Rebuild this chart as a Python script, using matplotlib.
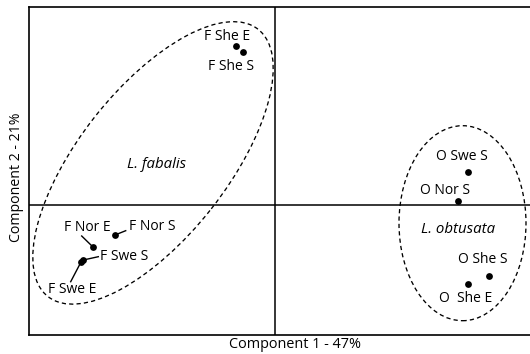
import matplotlib
matplotlib.use("Agg")
import matplotlib.pyplot as plt
from matplotlib.patches import Ellipse

plt.rcParams['font.family'] = ['Open Sans', 'DejaVu Sans']

# PCA scores of the populations
samples = ["F She E", "F She S", "F Nor E", "F Nor S", "F Swe S", "F Swe E",
           "O Swe S", "O Nor S", "O She S", "O She E"]
pc1 = [-0.387, -0.320, -1.814, -1.597, -1.914, -1.937, 1.936, 1.836, 2.146, 1.930]
pc2 = [1.593, 1.536, -0.420, -0.297, -0.547, -0.567, 0.330, 0.043, -0.707, -0.790]

x_label = "Component 1 - 47%"
y_label = "Component 2 - 21%"

# label text for each point and where it sits (baseline, centred)
label_text = {"F She E": "F She E", "F She S": "F She S", "F Nor E": "F Nor E",
              "F Nor S": "F Nor S", "F Swe S": "F Swe S", "F Swe E": "F Swe E",
              "O Swe S": "O Swe S", "O Nor S": "O Nor S", "O She S": "O She S",
              "O She E": "O  She E"}
label_xy = {"F She E": (-0.475, 1.658), "F She S": (-0.440, 1.358),
            "F Nor E": (-1.871, -0.259), "F Nor S": (-1.229, -0.242),
            "F Swe S": (-1.509, -0.542), "F Swe E": (-2.025, -0.875),
            "O Swe S": (1.868, 0.451), "O Nor S": (1.702, 0.115),
            "O She S": (2.083, -0.575), "O She E": (1.907, -0.969)}
# leader line end points for crowded labels
leader_end = {"F Nor E": (-1.930, -0.307), "F Nor S": (-1.490, -0.254),
              "F Swe S": (-1.764, -0.514), "F Swe E": (-2.040, -0.764)}

# species groups: name, centre, width, height, angle, label position
groups = [("L. fabalis", (-1.217, 0.424), 3.40, 1.484, 51.8, (-1.179, 0.370)),
          ("L. obtusata", (1.878, -0.179), 1.27, 1.95, 0.0, (1.834, -0.280))]

fig = plt.figure(figsize=(5.30, 3.54), dpi=100)
ax = fig.add_axes([29.3 / 530, 1 - 334.5 / 354, 1 - 29.3 / 530, (334.5 - 7.3) / 354])
ax.set_xlim(-2.454, 2.553)
ax.set_ylim(-1.292, 1.980)
ax.set_xticks([])
ax.set_yticks([])
for side in ["left", "top", "bottom"]:
    ax.spines[side].set_linewidth(1.2)
ax.spines["right"].set_visible(False)

ax.axhline(0, color="black", lw=1.1, zorder=1)
ax.axvline(0, color="black", lw=1.1, zorder=1)

for name, centre, w, h, ang, txy in groups:
    ax.add_patch(Ellipse(centre, w, h, angle=ang, fill=False, ec="black",
                         lw=0.95, ls=(0, (3.2, 2.4)), zorder=2))
    ax.text(txy[0], txy[1], name, style="italic", fontsize=10.8,
            ha="center", va="baseline")

for s, x, y in zip(samples, pc1, pc2):
    if s in leader_end:
        ex, ey = leader_end[s]
        ax.plot([x, ex], [y, ey], color="black", lw=1.0, zorder=3)

ax.scatter(pc1, pc2, s=24, color="black", zorder=4, linewidths=0)

for s in samples:
    lx, ly = label_xy[s]
    ax.text(lx, ly, label_text[s], fontsize=10, ha="center", va="baseline")

fig.text(295.3 / 530, 1 - 345 / 354, x_label, fontsize=10.4, ha="center", va="center")
fig.text(17 / 530, 1 - 177.5 / 354, y_label, fontsize=10.2, ha="center", va="center",
         rotation=90)

fig.savefig("out.png", dpi=100)
